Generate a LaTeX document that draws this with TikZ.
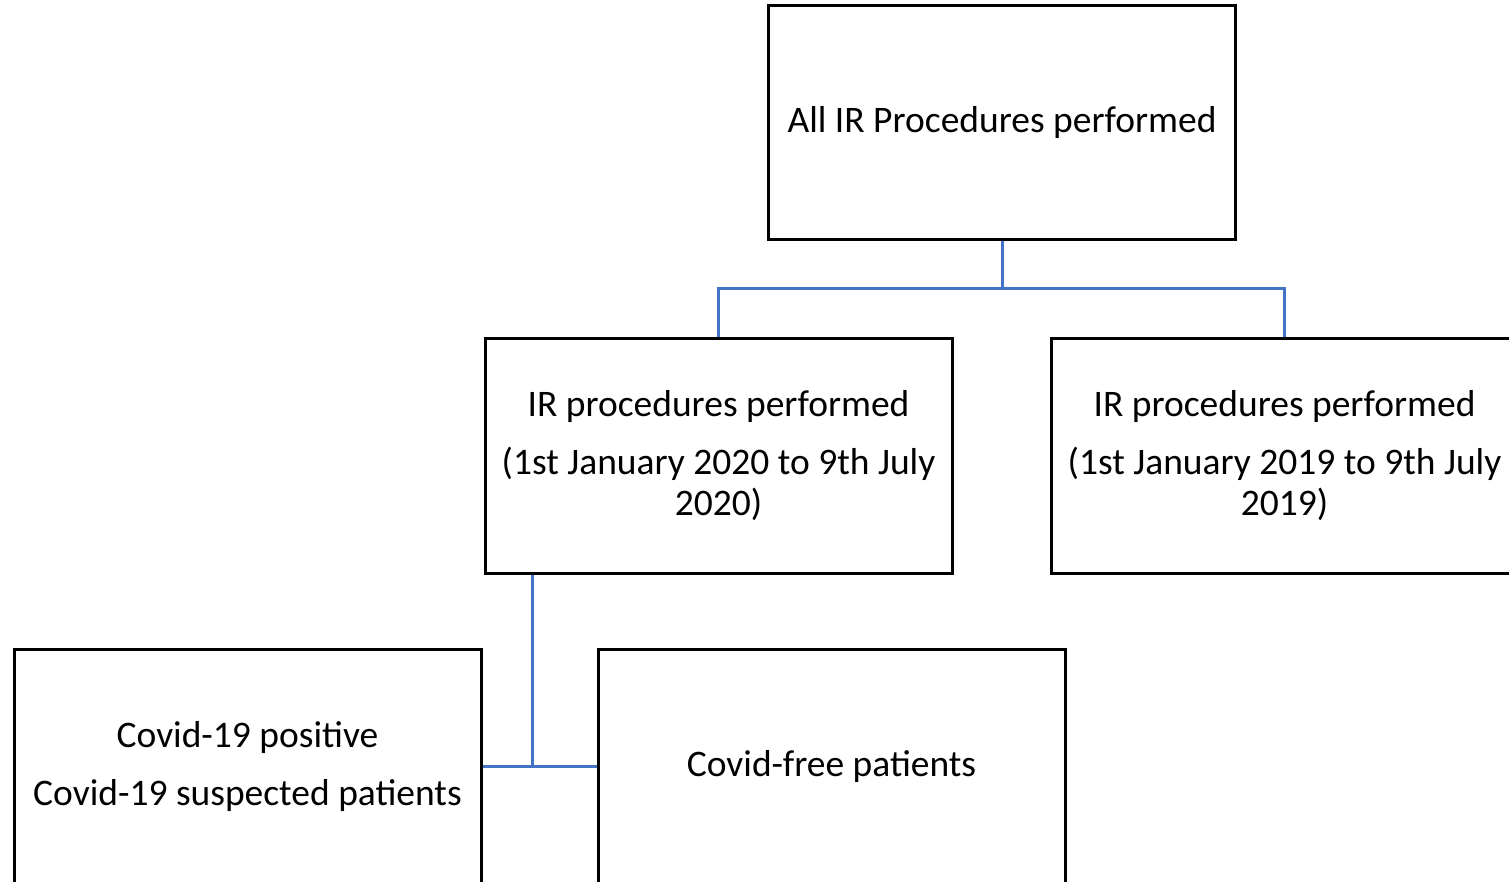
\documentclass[tikz,border=0pt]{standalone}
\usepackage{fontspec}
\setmainfont{Carlito}
\definecolor{connblue}{HTML}{4472C4}
\begin{document}
\begin{tikzpicture}[x=1pt,y=-1pt,
  box/.style={draw=black,line width=3pt,minimum width=467pt,minimum height=234pt,
    inner sep=0pt,align=center,font=\fontsize{37.5}{41}\selectfont},
  conn/.style={draw=connblue,line width=3pt}]
\clip (0,0) rectangle (1509,882);
\node[box] (top) at (1002,123) {All IR Procedures performed};
\node[box] (ml) at (718.5,456) {IR procedures performed\\[17pt](1st January 2020 to 9th July\\2020)};
\node[box] (mr) at (1284.5,456) {IR procedures performed\\[17pt](1st January 2019 to 9th July\\2019)};
\node[box] (bl) at (247.5,766.5) {Covid-19 positive\\[17pt]Covid-19 suspected patients};
\node[box] (br) at (831.5,766.5) {Covid-free patients};
\coordinate (j1) at (1002,289);
\coordinate (j2) at (532,766);
\draw[conn] (top.south) -- (j1) -| (ml.north);
\draw[conn] (j1) -| (mr.north);
\draw[conn] (ml.south -| j2) -- (j2);
\draw[conn] (bl.east |- j2) -- (br.west |- j2);
\end{tikzpicture}
\end{document}
